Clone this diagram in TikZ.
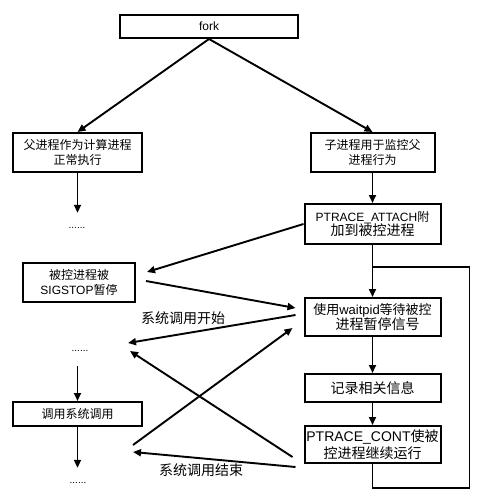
\documentclass[tikz,border=0pt]{standalone}
\usepackage{fontspec}
\setmainfont{Noto Sans CJK SC}
\newfontfamily\lat{Liberation Sans}
\usetikzlibrary{arrows.meta, positioning, calc}
\newcommand\bigtxt{\fontsize{14}{17}\selectfont}

\begin{document}
\begin{tikzpicture}[x=1pt, y=-1pt,
    font=\fontsize{12}{15.5}\selectfont,
    box/.style={draw, line width=2pt, inner sep=1pt, align=center},
    dots/.style={font=\lat, inner sep=0pt, minimum height=30pt},
    lbl/.style={inner sep=1pt, font=\bigtxt},
    ln/.style={line width=1.9pt},
    ar/.style={ln, -{Triangle[length=8pt, width=7pt]}}
  ]
    \useasboundingbox (0,0) rectangle (479,492);
    % top and the two branches
    \node[box, minimum width=178pt, minimum height=23pt] (fk) at (209,26.5) {\lat fork};
    \node[box, minimum width=129pt, minimum height=39pt] (pa) at (77.5,152.5) {父进程作为计算进程\\正常执行};
    \node[box, minimum width=124pt, minimum height=39pt] (ch) at (372.5,152.5) {子进程用于监控父\\进程行为};
    \draw[ar] (fk.south) -- (pa.north);
    \draw[ar] (fk.south) -- (ch.north);
    % parent side
    \node[dots] (d1) at (77,228) {......};
    \node[box, minimum width=112pt, minimum height=39pt] (stp) at (79,282.5) {被控进程被\\{\lat SIGSTOP}暂停};
    \node[dots] (d2) at (80,351) {......};
    \node[box, minimum width=129pt, minimum height=24pt] (cl) at (77.5,414) {调用系统调用};
    \node[dots] (d3) at (78,483) {......};
    \draw[ar] (pa.south) -- (d1.north -| pa.south);
    \draw[ar] (d2.south -| cl.north) -- (cl.north);
    \draw[ar] (cl.south) -- (d3.north -| cl.south);
    % child side
    \node[box, minimum width=136pt, minimum height=40pt, below=30pt of ch] (att) {{\lat PTRACE\_ATTACH}附\\[-1pt]{\bigtxt 加到被控进程}};
    \node[box, minimum width=136pt, minimum height=38pt, below=52pt of att] (wp) {\fontsize{13}{14}\selectfont 使用{\lat waitpid}等待被控\\[-1pt]\hspace*{10pt}{\bigtxt 进程暂停信号}};
    \node[box, minimum width=136pt, minimum height=28pt, below=36pt of wp, font=\bigtxt] (rec) {记录相关信息};
    \node[box, minimum width=136pt, minimum height=37pt, below=22pt of rec, font=\bigtxt] (ct) {{\lat PTRACE\_CONT}使被\\控进程继续运行};
    \draw[ar] (ch.south) -- (att.north);
    \draw[ar] (att.south) -- (wp.north);
    \draw[ar] (wp.south) -- (rec.north);
    \draw[ar] (rec.south) -- (ct.north);
    \draw[ln] (ct.south) |- ++(97,24) |- ($(att.south)+(0,22)$);
    % free ends between the two sides
    \coordinate (e1) at (147,272);
    \coordinate (e2) at (146,281);
    \coordinate (e3) at (128,343);
    \coordinate (e4) at (133,445);
    \coordinate (e5) at (130,351);
    \coordinate (e6) at (133,452);
    \draw[ar] (att.west) -- (e1);
    \draw[ar] (e2) -- ($(wp.west)+(-8,-9)$);
    \draw[ar] ($(wp.west)+(-8,-2)$) -- (e3);
    \draw[ar] (e4) -- ($(wp.west)+(-11,11)$);
    \draw[ar] ($(ct.west)+(-11,12.5)$) -- (e5);
    \draw[ar] ($(ct.west)+(-8,22.5)$) -- (e6);
    \node[lbl] (sb) at (183,318) {系统调用开始};
    \node[lbl] (se) at (201,470) {系统调用结束};
\end{tikzpicture}
\end{document}
